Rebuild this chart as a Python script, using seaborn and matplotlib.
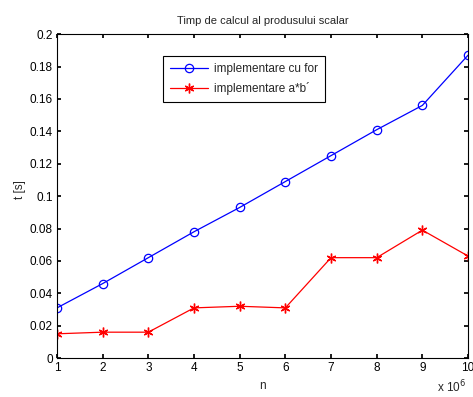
import matplotlib
matplotlib.use("Agg")
import matplotlib.pyplot as plt
import seaborn as sns
import pandas as pd

n = [1, 2, 3, 4, 5, 6, 7, 8, 9, 10]
t_for = [0.031, 0.046, 0.062, 0.078, 0.093, 0.109, 0.125, 0.141, 0.156, 0.187]
t_vec = [0.015, 0.016, 0.016, 0.031, 0.032, 0.031, 0.062, 0.062, 0.079, 0.063]
labels = ["implementare cu for", "implementare a*b\u00b4"]

sns.set_theme(style="white")
plt.rcParams['font.family'] = ['Liberation Sans', 'DejaVu Sans']

df = pd.DataFrame({"n": n * 2, "t": t_for + t_vec,
                   "s": [labels[0]] * len(n) + [labels[1]] * len(n)})

fig = plt.figure(figsize=(4.73, 3.97), dpi=100)
ax = fig.add_axes([0.1205, 0.098, 0.869, 0.816])

sns.lineplot(data=df[df.s == labels[0]], x="n", y="t", ax=ax, color="#0000ff",
             marker="o", markersize=6, markerfacecolor="none", markeredgecolor="#0000ff",
             markeredgewidth=0.9, linewidth=0.9, label=labels[0])
sns.lineplot(data=df[df.s == labels[1]], x="n", y="t", ax=ax, color="#ff0000",
             marker=(6, 2, 0), markersize=7, markerfacecolor="#ff0000", markeredgecolor="#ff0000",
             markeredgewidth=1.0, linewidth=0.9, label=labels[1])

ax.set_xlim(1, 10)
ax.set_ylim(0, 0.2)
ax.set_xticks(range(1, 11))
ax.set_yticks([0, 0.02, 0.04, 0.06, 0.08, 0.1, 0.12, 0.14, 0.16, 0.18, 0.2])
ax.set_yticklabels(["0", "0.02", "0.04", "0.06", "0.08", "0.1", "0.12", "0.14", "0.16", "0.18", "0.2"])
ax.tick_params(direction="in", length=3, labelsize=8.5, colors="black", top=True, right=True,
               bottom=True, left=True, pad=3)
for sp in ax.spines.values():
    sp.set_color("black")
    sp.set_linewidth(0.8)

ax.set_title("Timp de calcul al produsului scalar", fontsize=8, pad=7)
ax.set_xlabel("n", fontsize=8.5, labelpad=4)
ax.set_ylabel("t [s]", fontsize=8.5)
ax.yaxis.set_label_coords(-0.075, 0.52)
ax.text(0.995, -0.09, r"x 10$^6$", transform=ax.transAxes, fontsize=8.5, ha="right", va="center")

leg = ax.legend(loc="upper left", bbox_to_anchor=(0.243, 0.952), fontsize=8.5,
                frameon=True, fancybox=False, edgecolor="black", framealpha=1,
                handlelength=3.2, borderpad=0.6, labelspacing=0.6, handletextpad=0.5)
leg.get_frame().set_linewidth(0.8)

fig.savefig("out.png", dpi=100)
